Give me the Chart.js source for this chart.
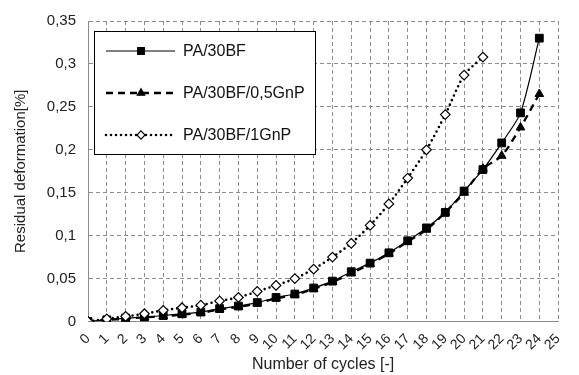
<!DOCTYPE html>
<html>
<head>
<meta charset="utf-8">
<script src="https://cdn.jsdelivr.net/npm/chart.js@4/dist/chart.umd.min.js"></script>
<style>
  html, body { margin: 0; padding: 0; background: #fff; }
  #wrap { width: 579px; height: 375px; }
</style>
</head>
<body>
<div id="wrap"><canvas id="chart" width="579" height="375"></canvas></div>
<script>
// Residual deformation vs number of cycles
const cycles = [0, 1, 2, 3, 4, 5, 6, 7, 8, 9, 10, 11, 12, 13, 14, 15, 16, 17, 18, 19, 20, 21, 22, 23, 24];
const pa30bf = [0, 0.002, 0.004, 0.005, 0.007, 0.009, 0.011, 0.015, 0.018, 0.022, 0.028, 0.032, 0.039, 0.047, 0.058, 0.068, 0.080, 0.094, 0.109, 0.127, 0.152, 0.177, 0.208, 0.243, 0.330];
const pa30bf05 = [0, 0.002, 0.003, 0.005, 0.006, 0.008, 0.010, 0.014, 0.017, 0.021, 0.027, 0.031, 0.038, 0.046, 0.056, 0.067, 0.079, 0.093, 0.107, 0.127, 0.150, 0.178, 0.193, 0.226, 0.265];
const pa30bf1 = [0, 0.003, 0.006, 0.009, 0.013, 0.016, 0.019, 0.024, 0.028, 0.035, 0.042, 0.050, 0.061, 0.075, 0.091, 0.112, 0.137, 0.167, 0.200, 0.241, 0.287, 0.308];
const seriesNames = ['PA/30BF', 'PA/30BF/0,5GnP', 'PA/30BF/1GnP'];

const FONT = '"Liberation Sans", Arial, sans-serif';
const NARROW = '"Liberation Sans Narrow", "Arial Narrow", "Liberation Sans", sans-serif';

function points(values) {
    return values.map((v, i) => ({ x: cycles[i], y: v }));
}

function drawMarker(ctx, style, x, y, r, fill) {
    ctx.save();
    ctx.fillStyle = fill;
    ctx.strokeStyle = '#000';
    ctx.lineWidth = 1.2;
    ctx.setLineDash([]);
    ctx.beginPath();
    if (style === 'rect') {
        const s = Math.SQRT1_2 * r;
        ctx.rect(x - s, y - s, 2 * s, 2 * s);
    } else if (style === 'triangle') {
        for (let k = 0; k < 3; k++) {
            const a = -Math.PI / 2 + k * 2 * Math.PI / 3;
            const px = x + r * Math.cos(a), py = y + r * Math.sin(a);
            if (k === 0) ctx.moveTo(px, py); else ctx.lineTo(px, py);
        }
        ctx.closePath();
    } else {
        ctx.moveTo(x, y - r); ctx.lineTo(x + r, y); ctx.lineTo(x, y + r); ctx.lineTo(x - r, y);
        ctx.closePath();
    }
    ctx.fill();
    ctx.stroke();
    ctx.restore();
}

// legend box drawn inside the plot, like the original
const boxLegend = {
    id: 'boxLegend',
    afterDraw(chart) {
        const ctx = chart.ctx;
        ctx.save();
        ctx.fillStyle = '#fff';
        ctx.fillRect(94, 31, 222, 124);
        ctx.strokeStyle = '#000';
        ctx.lineWidth = 1;
        ctx.strokeRect(94.5, 31.5, 221, 123);
        const rows = [51, 93, 135];
        const order = [1, 2, 0]; // dataset index per legend row
        order.forEach((di, k) => {
            const ds = chart.data.datasets[di];
            const y = rows[k];
            ctx.save();
            ctx.strokeStyle = '#000';
            ctx.lineWidth = ds.borderWidth;
            ctx.lineCap = ds.borderCapStyle || 'butt';
            ctx.setLineDash(ds.borderDash || []);
            ctx.beginPath();
            ctx.moveTo(106, y);
            ctx.lineTo(175, y);
            ctx.stroke();
            ctx.restore();
            drawMarker(ctx, ds.pointStyle, 141, y, ds.pointRadius * 0.85, ds.pointBackgroundColor);
            ctx.fillStyle = '#111';
            ctx.font = '16px ' + FONT;
            ctx.textBaseline = 'middle';
            ctx.textAlign = 'left';
            ctx.fillText(ds.label, 183, y + 1);
        });
        ctx.restore();
    }
};

const ctx = document.getElementById('chart').getContext('2d');
new Chart(ctx, {
    type: 'line',
    data: {
        datasets: [
            {
                label: seriesNames[2],
                data: points(pa30bf1),
                borderColor: '#000',
                borderWidth: 2.6,
                borderDash: [0, 5],
                borderCapStyle: 'round',
                pointStyle: 'rectRot',
                pointRadius: 4.8,
                pointBackgroundColor: '#fff',
                pointBorderColor: '#000',
                pointBorderWidth: 1.2,
                tension: 0.25,
                order: 0
            },
            {
                label: seriesNames[0],
                data: points(pa30bf),
                borderColor: '#000',
                borderWidth: 1.2,
                pointStyle: 'rect',
                pointRadius: 5.5,
                pointBackgroundColor: '#000',
                pointBorderColor: '#000',
                pointBorderWidth: 1,
                tension: 0.25,
                order: 1
            },
            {
                label: seriesNames[1],
                data: points(pa30bf05),
                borderColor: '#000',
                borderWidth: 2.3,
                borderDash: [7, 5],
                pointStyle: 'triangle',
                pointRadius: 5,
                pointBackgroundColor: '#000',
                pointBorderColor: '#000',
                pointBorderWidth: 1,
                tension: 0.25,
                order: 2
            }
        ]
    },
    options: {
        responsive: false,
        animation: false,
        layout: { padding: { top: 19, right: 1, left: 0, bottom: 0 } },
        plugins: {
            legend: { display: false },
            tooltip: { enabled: false }
        },
        scales: {
            x: {
                type: 'linear',
                min: 0,
                max: 25,
                afterFit(scale) { scale.height = 53.5; },
                ticks: {
                    stepSize: 1,
                    autoSkip: false,
                    minRotation: 45,
                    maxRotation: 45,
                    padding: 9,
                    color: '#222',
                    font: { family: FONT, size: 14 }
                },
                grid: { color: '#8c8c8c', lineWidth: 1, drawTicks: false },
                border: { color: '#8c8c8c', width: 1, dash: [4, 3] },
                title: {
                    display: true,
                    text: 'Number of cycles [-]',
                    color: '#222',
                    font: { family: FONT, size: 16 },
                    padding: { top: 0, bottom: 1 }
                }
            },
            y: {
                min: 0,
                max: 0.35,
                afterFit(scale) { scale.width = 88; },
                ticks: {
                    stepSize: 0.05,
                    padding: 12,
                    color: '#222',
                    font: { family: FONT, size: 15 },
                    callback: v => String(Math.round(v * 100) / 100).replace('.', ',')
                },
                grid: { color: '#8c8c8c', lineWidth: 1, drawTicks: false },
                border: { color: '#8c8c8c', width: 1, dash: [4, 3] },
                title: {
                    display: true,
                    text: 'Residual deformation[%]',
                    color: '#222',
                    font: { family: NARROW, size: 15 },
                    padding: { top: 12, bottom: 0 }
                }
            }
        }
    },
    plugins: [boxLegend]
});
</script>
</body>
</html>
